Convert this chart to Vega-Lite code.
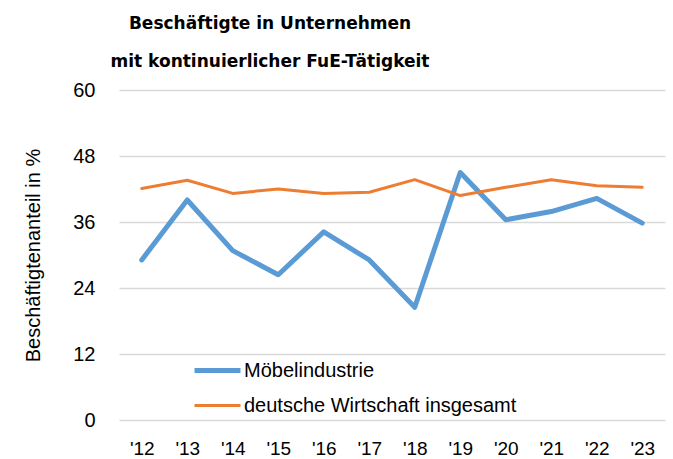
{
  "$schema": "https://vega.github.io/schema/vega-lite/v6.json",
  "width": 546,
  "height": 330,
  "autosize": "none",
  "padding": {"left": 119, "top": 90, "right": 8, "bottom": 39},
  "background": "white",
  "title": {
    "text": ["Beschäftigte in Unternehmen", "mit kontinuierlicher FuE-Tätigkeit"],
    "font": "DejaVu Sans",
    "fontSize": 17,
    "fontWeight": "bold",
    "color": "#000000",
    "lineHeight": 38,
    "anchor": "middle",
    "frame": "group",
    "dx": -122,
    "offset": 9
  },
  "data": {
    "values": [
      {"year": "'12", "series": "Möbelindustrie", "value": 29.1},
      {"year": "'13", "series": "Möbelindustrie", "value": 40.0},
      {"year": "'14", "series": "Möbelindustrie", "value": 30.8},
      {"year": "'15", "series": "Möbelindustrie", "value": 26.4},
      {"year": "'16", "series": "Möbelindustrie", "value": 34.2},
      {"year": "'17", "series": "Möbelindustrie", "value": 29.1},
      {"year": "'18", "series": "Möbelindustrie", "value": 20.5},
      {"year": "'19", "series": "Möbelindustrie", "value": 45.0},
      {"year": "'20", "series": "Möbelindustrie", "value": 36.4},
      {"year": "'21", "series": "Möbelindustrie", "value": 37.9},
      {"year": "'22", "series": "Möbelindustrie", "value": 40.3},
      {"year": "'23", "series": "Möbelindustrie", "value": 35.8},
      {"year": "'12", "series": "deutsche Wirtschaft insgesamt", "value": 42.1},
      {"year": "'13", "series": "deutsche Wirtschaft insgesamt", "value": 43.6},
      {"year": "'14", "series": "deutsche Wirtschaft insgesamt", "value": 41.2},
      {"year": "'15", "series": "deutsche Wirtschaft insgesamt", "value": 42.0},
      {"year": "'16", "series": "deutsche Wirtschaft insgesamt", "value": 41.2},
      {"year": "'17", "series": "deutsche Wirtschaft insgesamt", "value": 41.4},
      {"year": "'18", "series": "deutsche Wirtschaft insgesamt", "value": 43.7},
      {"year": "'19", "series": "deutsche Wirtschaft insgesamt", "value": 40.8},
      {"year": "'20", "series": "deutsche Wirtschaft insgesamt", "value": 42.3},
      {"year": "'21", "series": "deutsche Wirtschaft insgesamt", "value": 43.7},
      {"year": "'22", "series": "deutsche Wirtschaft insgesamt", "value": 42.6},
      {"year": "'23", "series": "deutsche Wirtschaft insgesamt", "value": 42.3}
    ]
  },
  "mark": {"type": "line", "strokeCap": "round", "strokeJoin": "round"},
  "encoding": {
    "x": {
      "field": "year",
      "type": "ordinal",
      "sort": null,
      "scale": {"type": "point", "padding": 0.5},
      "axis": {
        "title": null,
        "labelAngle": 0,
        "labelFont": "Liberation Sans",
        "labelFontSize": 19,
        "labelColor": "#000000",
        "labelPadding": 19,
        "ticks": false,
        "domain": false,
        "grid": false
      }
    },
    "y": {
      "field": "value",
      "type": "quantitative",
      "scale": {"domain": [0, 60]},
      "axis": {
        "values": [0, 12, 24, 36, 48, 60],
        "title": "Beschäftigtenanteil in %",
        "titleFont": "Liberation Sans",
        "titleFontSize": 20,
        "titleFontWeight": "normal",
        "titleColor": "#000000",
        "titlePadding": 29,
        "labelFont": "Liberation Sans",
        "labelFontSize": 20,
        "labelColor": "#000000",
        "labelPadding": 24,
        "ticks": false,
        "domain": false,
        "grid": true,
        "gridColor": "#D9D9D9",
        "gridWidth": 1.5
      }
    },
    "color": {
      "field": "series",
      "type": "nominal",
      "sort": null,
      "scale": {"domain": ["Möbelindustrie", "deutsche Wirtschaft insgesamt"], "range": ["#5B9BD5", "#ED7D31"]},
      "legend": {
        "title": null,
        "orient": "none",
        "legendX": 73,
        "legendY": 255,
        "direction": "vertical",
        "symbolType": "stroke",
        "symbolSize": 2116,
        "labelFont": "Liberation Sans",
        "labelFontSize": 20,
        "labelColor": "#000000",
        "labelOffset": 1,
        "labelLimit": 500,
        "rowPadding": 0
      }
    },
    "strokeWidth": {
      "field": "series",
      "type": "nominal",
      "sort": null,
      "scale": {"domain": ["Möbelindustrie", "deutsche Wirtschaft insgesamt"], "range": [5, 3]},
      "legend": {
        "title": null,
        "orient": "none",
        "legendX": 73,
        "legendY": 255,
        "direction": "vertical",
        "symbolType": "stroke",
        "symbolSize": 2116,
        "labelFont": "Liberation Sans",
        "labelFontSize": 20,
        "labelColor": "#000000",
        "labelOffset": 1,
        "labelLimit": 500,
        "rowPadding": 0
      }
    }
  },
  "config": {"view": {"stroke": null}}
}
